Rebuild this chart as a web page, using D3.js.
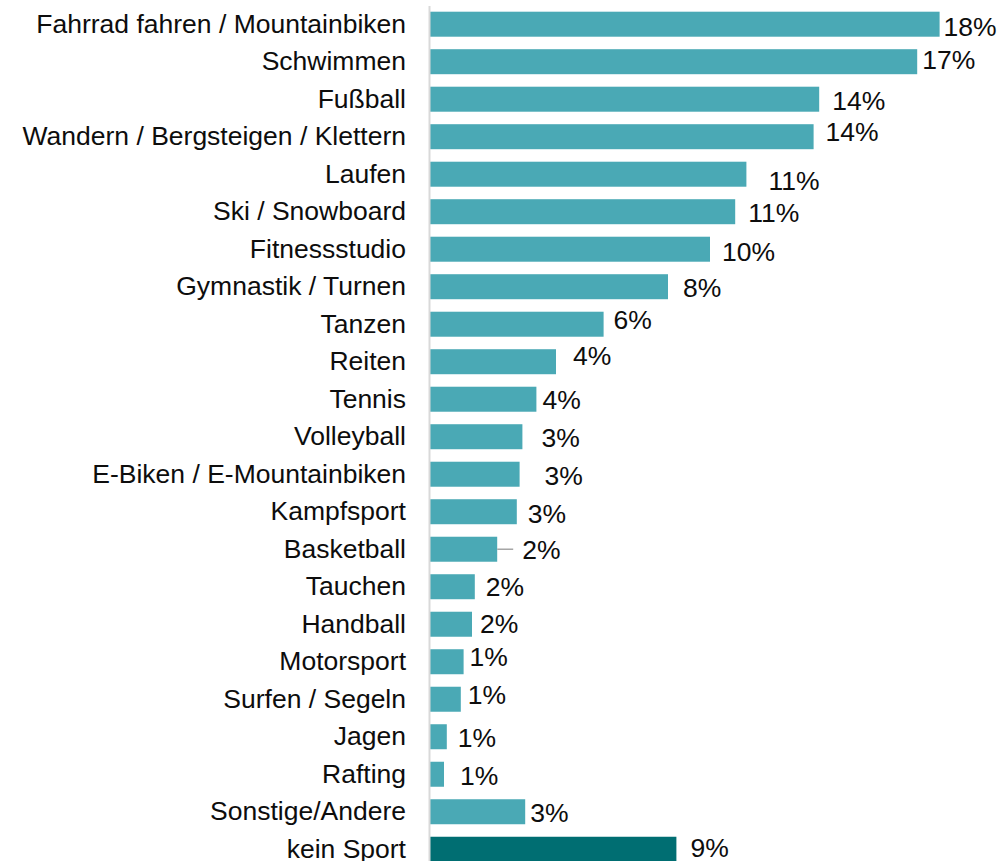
<!DOCTYPE html>
<html lang="de">
<head>
    <meta charset="UTF-8">
    <title>Sportarten</title>
    <script src="https://d3js.org/d3.v7.min.js"></script>
    <style>
        body { margin: 0; background: #fff; }
        text { font-family: "Liberation Sans", Arial, sans-serif; }
    </style>
</head>
<body>
    <div id="my_dataviz"></div>

    <script>
        // data
        var categories = ["Fahrrad fahren / Mountainbiken", "Schwimmen", "Fußball",
            "Wandern / Bergsteigen / Klettern", "Laufen", "Ski / Snowboard", "Fitnessstudio",
            "Gymnastik / Turnen", "Tanzen", "Reiten", "Tennis", "Volleyball",
            "E-Biken / E-Mountainbiken", "Kampfsport", "Basketball", "Tauchen", "Handball",
            "Motorsport", "Surfen / Segeln", "Jagen", "Rafting", "Sonstige/Andere", "kein Sport"];
        var values = [18.2, 17.4, 13.9, 13.7, 11.3, 10.9, 10.0, 8.5, 6.2, 4.5, 3.8, 3.3,
            3.2, 3.1, 2.4, 1.6, 1.5, 1.2, 1.1, 0.6, 0.5, 3.4, 8.8];
        var valueLabels = ["18%", "17%", "14%", "14%", "11%", "11%", "10%", "8%", "6%", "4%",
            "4%", "3%", "3%", "3%", "2%", "2%", "2%", "1%", "1%", "1%", "1%", "3%", "9%"];

        // manual label nudges (gap from bar end, vertical shift), like the original
        var labelGap = [4, 5, 13, 12, 22, 13, 12, 15, 10, 17, 6, 19, 25, 11, 25, 11, 8, 6, 7, 11, 16, 5, 14];
        var labelShift = [2.5, -2.6, 1.1, -4.8, 5.8, 0.3, 1.8, 0.8, -5.2, -6.7, -0.2, 1.1, 0.8,
            1.3, 0.5, 0, -0.9, -5.4, -5.2, 0.3, 0.8, 0.3, -2.2];

        var width = 1002, height = 861;

        var svg = d3.select("#my_dataviz")
            .append("svg")
            .attr("width", width)
            .attr("height", height);

        var x = d3.scaleLinear()
            .domain([0, 20])
            .range([430, 990]);

        var y = d3.scaleBand()
            .domain(categories)
            .range([5.45, 868])
            .paddingInner(1 / 3)
            .paddingOuter(1 / 6);

        var rows = categories.map(function(c, i) {
            return { cat: c, val: values[i], label: valueLabels[i], gap: labelGap[i], shift: labelShift[i] };
        });

        // bars
        svg.selectAll("rect.bar")
            .data(rows)
            .enter()
            .append("rect")
            .attr("class", "bar")
            .attr("x", x(0))
            .attr("y", function(d) { return y(d.cat); })
            .attr("width", function(d) { return x(d.val) - x(0); })
            .attr("height", y.bandwidth())
            .attr("fill", function(d) { return d.cat === "kein Sport" ? "#006e72" : "#4aa9b5"; });

        // category axis
        var axis = svg.append("g")
            .attr("transform", "translate(429,0)")
            .call(d3.axisLeft(y).tickSize(0).tickPadding(23));
        axis.select(".domain")
            .attr("stroke", "#d9d9d9")
            .attr("stroke-width", 2);
        axis.selectAll("text")
            .style("font-size", "26.5px")
            .attr("fill", "#0d0d0d");

        // leader line (Basketball)
        svg.selectAll("line.leader")
            .data(rows.filter(function(d) { return d.cat === "Basketball"; }))
            .enter()
            .append("line")
            .attr("x1", function(d) { return x(d.val); })
            .attr("x2", function(d) { return x(d.val) + d.gap - 9; })
            .attr("y1", function(d) { return y(d.cat) + y.bandwidth() / 2; })
            .attr("y2", function(d) { return y(d.cat) + y.bandwidth() / 2; })
            .attr("stroke", "#a6a6a6")
            .attr("stroke-width", 1.5);

        // value labels
        svg.selectAll("text.val")
            .data(rows)
            .enter()
            .append("text")
            .attr("class", "val")
            .attr("x", function(d) { return x(d.val) + d.gap; })
            .attr("y", function(d) { return y(d.cat) + y.bandwidth() / 2 + d.shift; })
            .attr("dy", "0.36em")
            .style("font-size", "26.5px")
            .attr("fill", "#0d0d0d")
            .text(function(d) { return d.label; });
    </script>
</body>
</html>
